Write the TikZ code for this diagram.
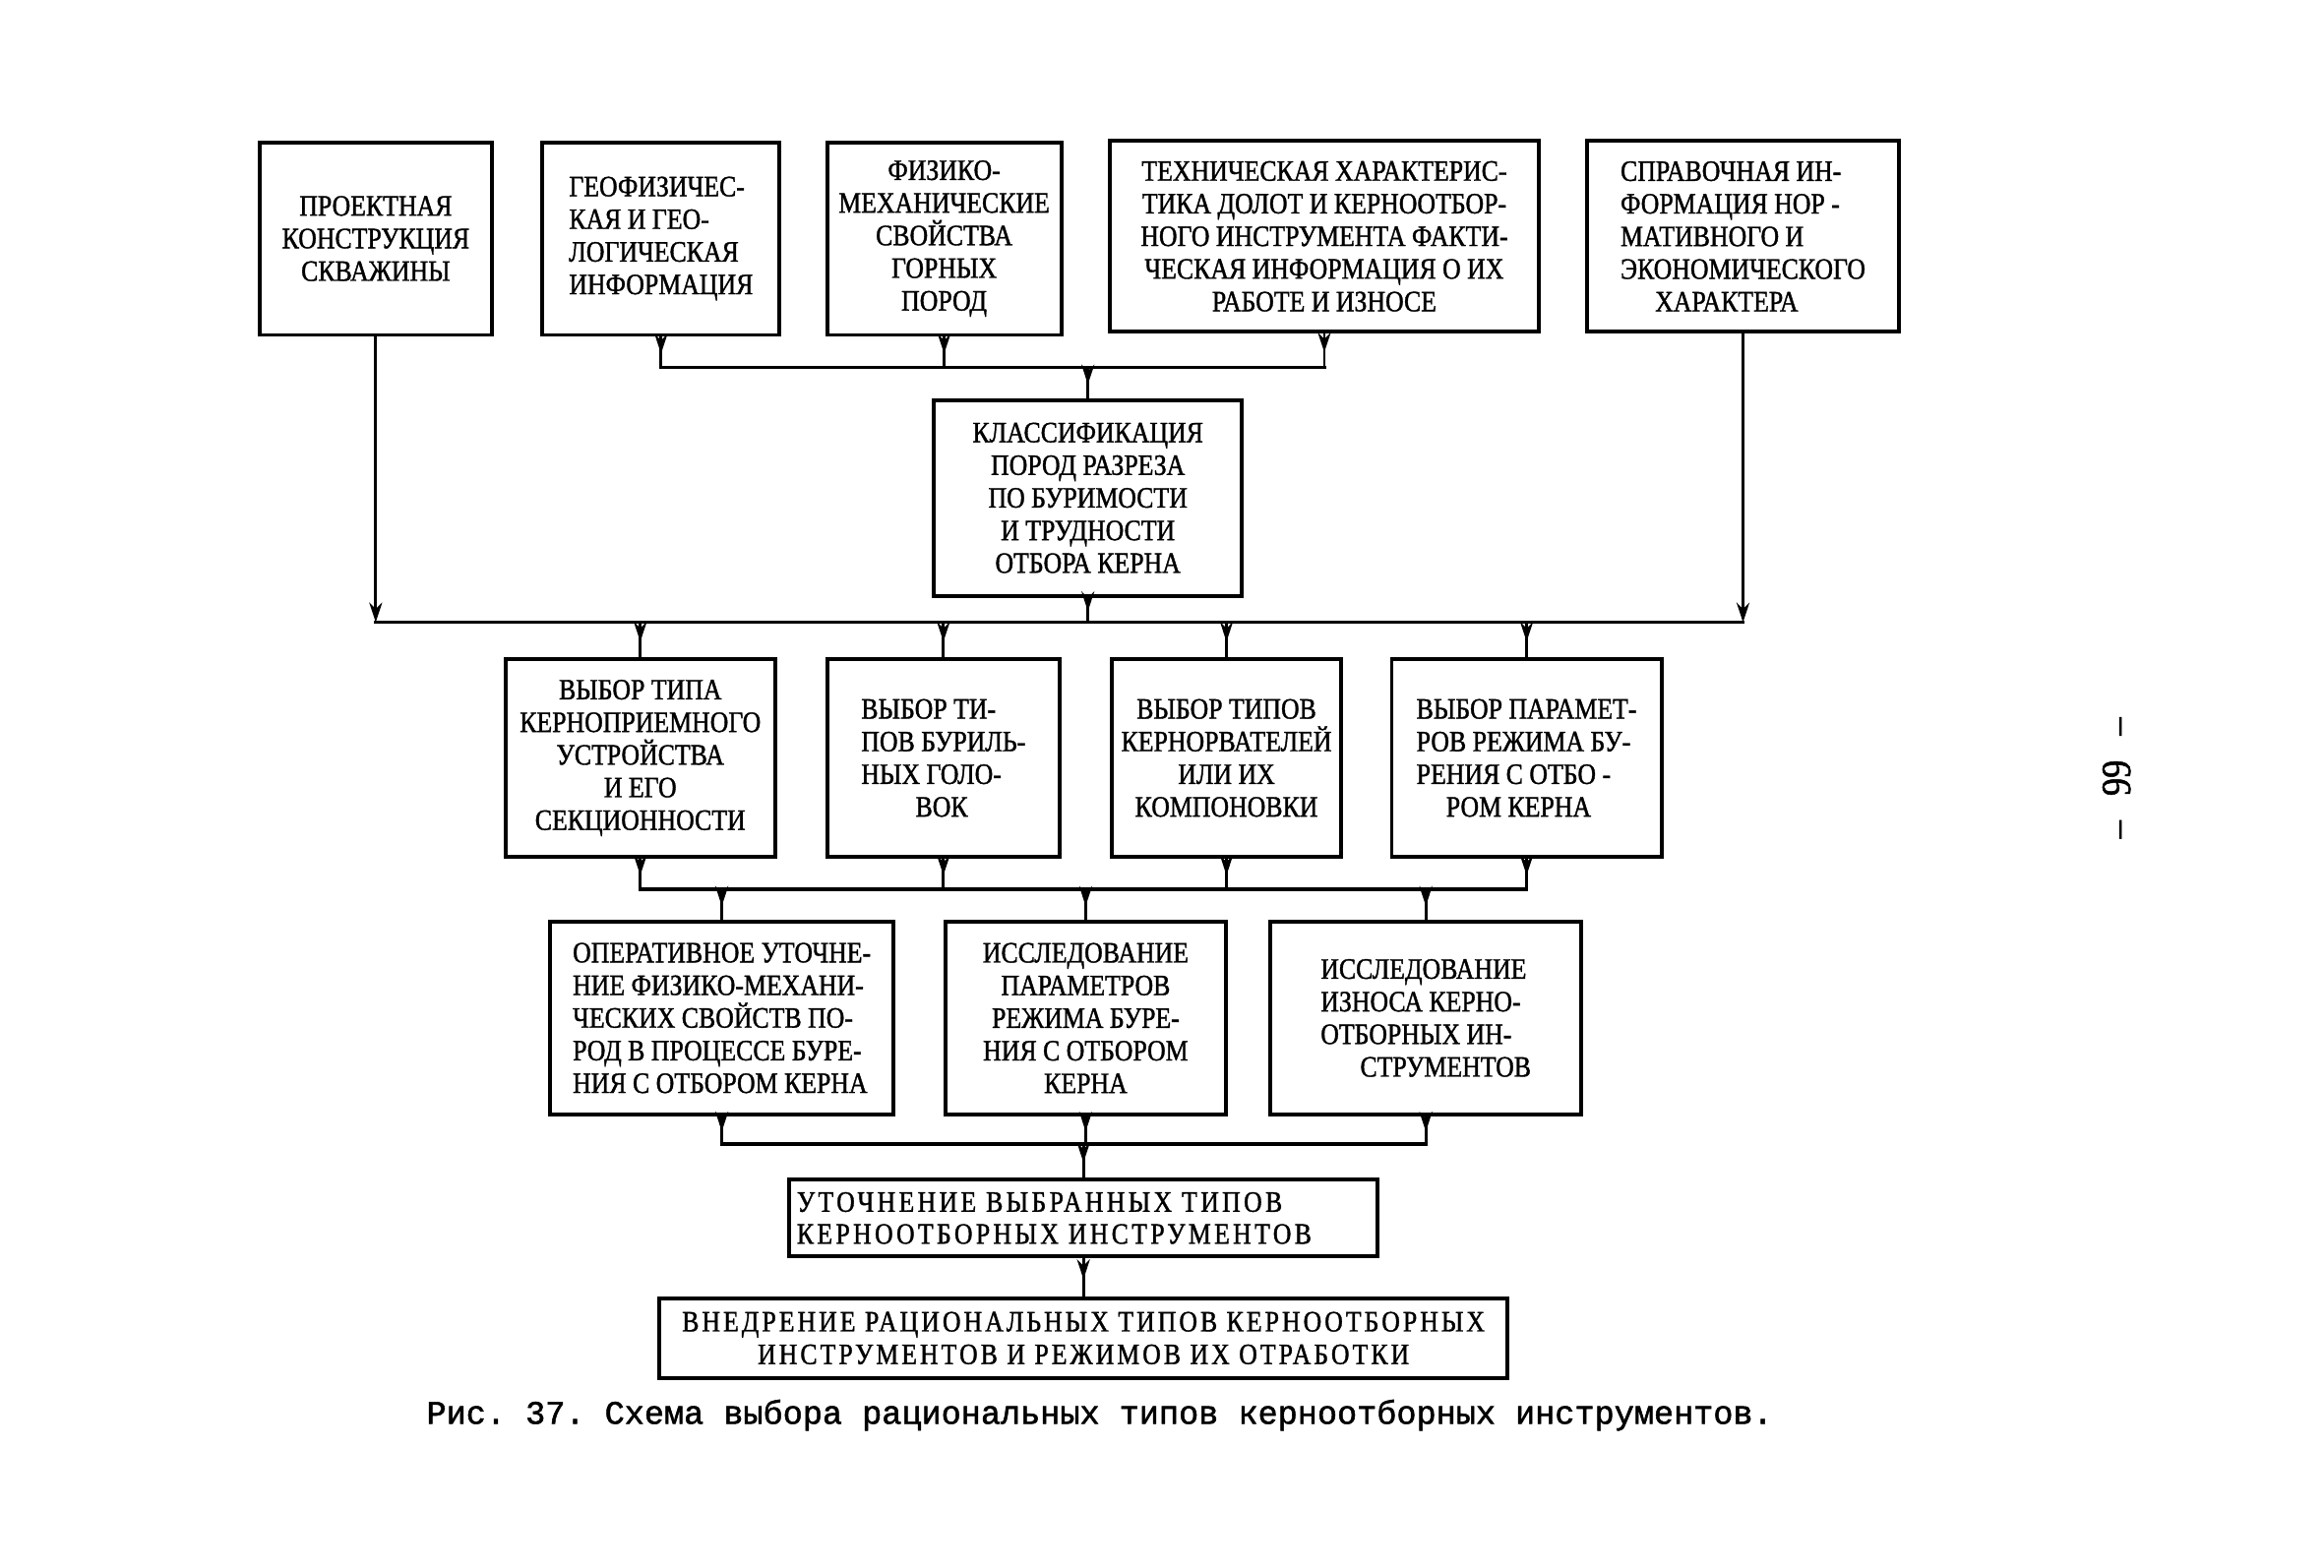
\documentclass[tikz,border=0pt]{standalone}
\usepackage{fontspec}
\setmainfont[FakeStretch=0.86,FakeBold=1.2]{Liberation Serif}
\newfontfamily\typefont[FakeBold=1.5]{Liberation Mono}
\newfontfamily\wideA[FakeStretch=0.86,FakeBold=1.2,LetterSpace=11]{Liberation Serif}
\newfontfamily\wideB[FakeStretch=0.86,FakeBold=1.2,LetterSpace=10]{Liberation Serif}
\usetikzlibrary{arrows.meta,decorations.markings}

\begin{document}
\frenchspacing
\begin{tikzpicture}[x=0.15mm,y=-0.15mm,
    box/.style={draw, rectangle, line width=1.1pt, minimum height=19.5mm, inner sep=0.6mm, align=center, font=\fontsize{8.5}{9.4}\selectfont},
    flow/.style={line width=0.8pt, postaction={decorate}, decoration={markings, mark=at position 0.55 with {\arrow{Stealth[length=2mm,width=1.3mm]}}}},
    feed/.style={line width=0.8pt, -{Stealth[length=2mm,width=1.3mm]}},
    bus/.style={line width=1pt, line cap=rect}]
        \useasboundingbox (0,0) rectangle (1568,1058);

        % top row: source data
        \node (proj) [box, minimum width=23.55mm] at (253.5,161) {ПРОЕКТНАЯ\\КОНСТРУКЦИЯ\\СКВАЖИНЫ};
        \node (geo) [box, minimum width=24mm, align=left] at (446,161) {ГЕОФИЗИЧЕС-\\КАЯ И ГЕО-\\ЛОГИЧЕСКАЯ\\ИНФОРМАЦИЯ};
        \node (phys) [box, minimum width=23.7mm] at (637,161) {ФИЗИКО-\\МЕХАНИЧЕСКИЕ\\СВОЙСТВА\\ГОРНЫХ\\ПОРОД};
        \node (tech) [box, minimum width=43.35mm, minimum height=19.35mm] at (893.5,159.5) {ТЕХНИЧЕСКАЯ ХАРАКТЕРИС-\\ТИКА ДОЛОТ И КЕРНООТБОР-\\НОГО ИНСТРУМЕНТА ФАКТИ-\\ЧЕСКАЯ ИНФОРМАЦИЯ О ИХ\\РАБОТЕ И ИЗНОСЕ};
        \node (ref) [box, minimum width=31.5mm, minimum height=19.35mm, align=left] at (1176,159.5) {СПРАВОЧНАЯ ИН-\\ФОРМАЦИЯ НОР -\\МАТИВНОГО И\\ЭКОНОМИЧЕСКОГО\\\hspace{3.5mm}ХАРАКТЕРА};

        \node (class) [box, minimum width=31.2mm, minimum height=19.8mm] at (734,336) {КЛАССИФИКАЦИЯ\\ПОРОД РАЗРЕЗА\\ПО БУРИМОСТИ\\И ТРУДНОСТИ\\ОТБОРА КЕРНА};

        % choice row
        \node (typ) [box, minimum width=27.3mm, minimum height=19.95mm] at (432,511.5) {ВЫБОР ТИПА\\КЕРНОПРИЕМНОГО\\УСТРОЙСТВА\\И ЕГО\\СЕКЦИОННОСТИ};
        \node (heads) [box, minimum width=23.55mm, minimum height=19.95mm, align=left] at (636.5,511.5) {ВЫБОР ТИ-\\ПОВ БУРИЛЬ-\\НЫХ ГОЛО-\\\hspace{5.5mm}ВОК};
        \node (rvat) [box, minimum width=23.25mm, minimum height=19.95mm, inner xsep=0.2mm] at (827.5,511.5) {ВЫБОР ТИПОВ\\КЕРНОРВАТЕЛЕЙ\\ИЛИ ИХ\\КОМПОНОВКИ};
        \node (regime) [box, minimum width=27.3mm, minimum height=19.95mm, align=left] at (1030,511.5) {ВЫБОР ПАРАМЕТ-\\РОВ РЕЖИМА БУ-\\РЕНИЯ С ОТБО -\\\hspace{3mm}РОМ КЕРНА};

        % study row
        \node (oper) [box, minimum width=34.8mm, align=left] at (487,687) {ОПЕРАТИВНОЕ УТОЧНЕ-\\НИЕ ФИЗИКО-МЕХАНИ-\\ЧЕСКИХ СВОЙСТВ ПО-\\РОД В ПРОЦЕССЕ БУРЕ-\\НИЯ С ОТБОРОМ КЕРНА};
        \node (issl) [box, minimum width=28.35mm] at (732.5,687) {ИССЛЕДОВАНИЕ\\ПАРАМЕТРОВ\\РЕЖИМА БУРЕ-\\НИЯ С ОТБОРОМ\\КЕРНА};
        \node (wear) [box, minimum width=31.5mm, align=left] at (962,687) {ИССЛЕДОВАНИЕ\\ИЗНОСА КЕРНО-\\ОТБОРНЫХ ИН-\\\hspace{4mm}СТРУМЕНТОВ};

        % result
        \node (refine) [box, minimum width=59.55mm, minimum height=7.8mm, text width=58mm, align=left, font=\wideA\fontsize{8.5}{9.2}\selectfont] at (731,822) {УТОЧНЕНИЕ ВЫБРАННЫХ ТИПОВ\\КЕРНООТБОРНЫХ ИНСТРУМЕНТОВ};
        \node (adopt) [box, minimum width=85.8mm, minimum height=8.1mm, font=\wideB\fontsize{8.5}{9.4}\selectfont] at (731,903) {ВНЕДРЕНИЕ РАЦИОНАЛЬНЫХ ТИПОВ КЕРНООТБОРНЫХ\\ИНСТРУМЕНТОВ И РЕЖИМОВ ИХ ОТРАБОТКИ};

        \node (caption) [font=\typefont\fontsize{9.5}{11}\selectfont] at (742,955) {Рис. 37. Схема выбора рациональных типов керноотборных инструментов.};
        \node (page) [rotate=90, font=\fontsize{12}{12}\selectfont] at (1428,525) {–\hspace{2.5mm}99\hspace{2.5mm}–};

        \coordinate (topbus) at (0,248);
        \coordinate (mainbus) at (0,420);
        \coordinate (midbus) at (0,600);
        \coordinate (lowbus) at (0,772);

        % connectors
        \foreach \n in {geo,phys,tech}
            \draw[flow] (\n.south) -- (\n.south |- topbus);
        \draw[bus] (geo.south |- topbus) -- (tech.south |- topbus);
        \draw[flow] (class.north |- topbus) -- (class.north);

        \draw[feed] (proj.south) -- (proj.south |- mainbus);
        \draw[feed] (ref.south) -- (ref.south |- mainbus);
        \draw[flow] (class.south) -- (class.south |- mainbus);
        \draw[bus] (proj.south |- mainbus) -- (ref.south |- mainbus);

        \foreach \n in {typ,heads,rvat,regime} {
            \draw[flow] (\n.north |- mainbus) -- (\n.north);
            \draw[flow] (\n.south) -- (\n.south |- midbus);
        }
        \draw[bus] (typ.south |- midbus) -- (regime.south |- midbus);

        \foreach \n in {oper,issl,wear} {
            \draw[flow] (\n.north |- midbus) -- (\n.north);
            \draw[flow] (\n.south) -- (\n.south |- lowbus);
        }
        \draw[bus] (oper.south |- lowbus) -- (wear.south |- lowbus);
        \draw[flow] (refine.north |- lowbus) -- (refine.north);
        \draw[flow] (refine) -- (adopt);
\end{tikzpicture}
\end{document}
